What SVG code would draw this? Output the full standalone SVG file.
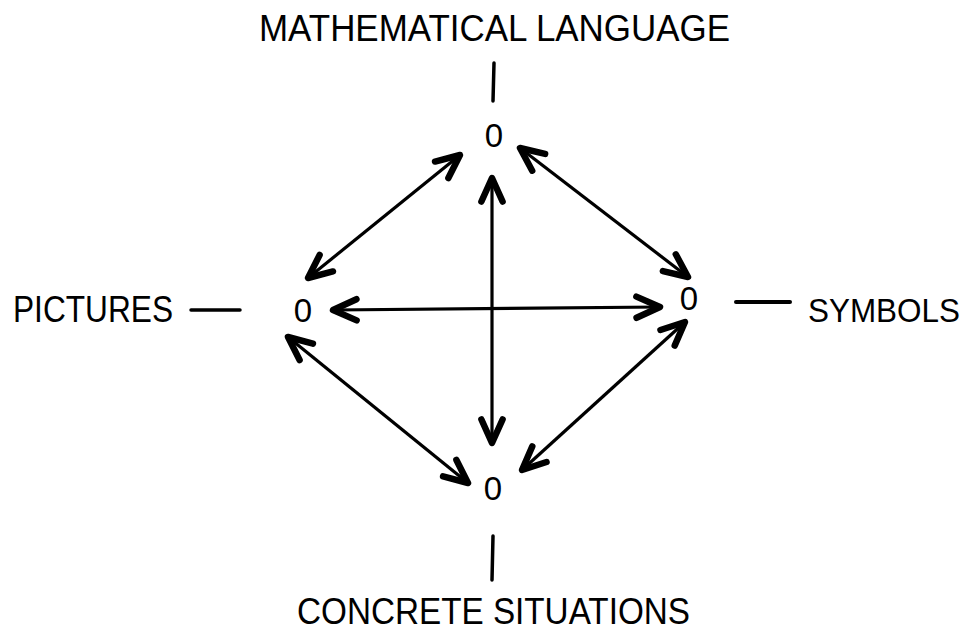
<svg xmlns="http://www.w3.org/2000/svg" width="973" height="631" viewBox="0 0 973 631">
<style>
text{font-family:"Liberation Sans",Arial,sans-serif;fill:#000}
.lbl{font-size:36px}
.zero{font-size:33px;text-anchor:middle}
.tick{stroke:#000;stroke-width:3.5;stroke-linecap:round}
.conn{stroke:#000;stroke-width:3.2;fill:none;marker-start:url(#ah);marker-end:url(#ah)}
</style>
<defs>
<marker id="ah" markerUnits="userSpaceOnUse" markerWidth="40" markerHeight="40" viewBox="-28 -16 34 32" refX="0" refY="0" orient="auto-start-reverse" overflow="visible">
<path d="M-20,-9 L0,0 L-20,9" fill="none" stroke="#000" stroke-width="5.5" stroke-linecap="round" stroke-linejoin="round"/>
</marker>
</defs>
<rect width="973" height="631" fill="#fff"/>
<g id="node-math">
<text class="lbl" x="259" y="41" textLength="471" lengthAdjust="spacingAndGlyphs">MATHEMATICAL LANGUAGE</text>
<line class="tick" x1="494" y1="63" x2="493" y2="101"/>
<text class="zero" x="494" y="147">0</text>
</g>
<g id="node-pictures">
<text class="lbl" x="13" y="322" textLength="160" lengthAdjust="spacingAndGlyphs">PICTURES</text>
<line class="tick" x1="191" y1="310" x2="240" y2="310"/>
<text class="zero" x="303" y="322">0</text>
</g>
<g id="node-symbols">
<text class="lbl" x="808" y="322" style="font-size:33px" textLength="152" lengthAdjust="spacingAndGlyphs">SYMBOLS</text>
<line class="tick" x1="736" y1="302" x2="790" y2="302" style="stroke-width:4"/>
<text class="zero" x="689" y="310">0</text>
</g>
<g id="node-concrete">
<text class="zero" x="493" y="500">0</text>
<line class="tick" x1="493" y1="536" x2="492" y2="580"/>
<text class="lbl" x="297" y="624" textLength="393" lengthAdjust="spacingAndGlyphs">CONCRETE SITUATIONS</text>
</g>
<g id="connectors">
<line class="conn" x1="460" y1="155" x2="308" y2="278"/>
<line class="conn" x1="520" y1="148" x2="688" y2="277"/>
<line class="conn" x1="333" y1="310" x2="660" y2="307"/>
<line class="conn" x1="492" y1="178" x2="492" y2="443"/>
<line class="conn" x1="288" y1="337" x2="468" y2="483"/>
<line class="conn" x1="685" y1="322" x2="522" y2="470"/>
</g>
</svg>
